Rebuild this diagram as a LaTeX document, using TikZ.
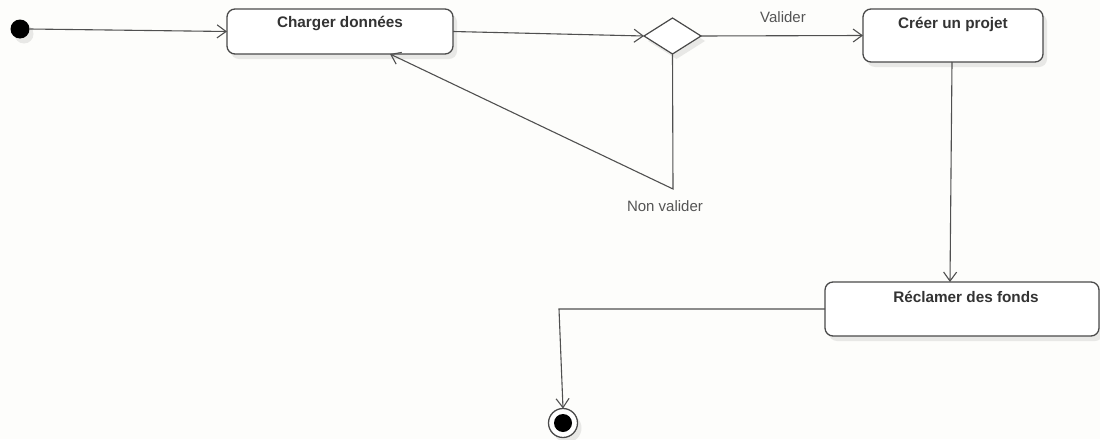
\documentclass[tikz,border=0pt]{standalone}
\usepackage{fontspec}
\setmainfont{Liberation Sans}
\usetikzlibrary{arrows.meta,shapes.geometric,shadows,calc}
\definecolor{bgc}{HTML}{FDFDFB}
\definecolor{edgec}{HTML}{4A4A4A}
\definecolor{linec}{HTML}{505050}
\definecolor{txtc}{HTML}{333333}
\definecolor{lblc}{HTML}{555555}
\definecolor{shc}{HTML}{E8E8E6}
\tikzset{
  shd/.style={drop shadow={shadow xshift=4pt,shadow yshift=-5pt,fill=shc,opacity=1}},
  actbox/.style={draw=edgec,line width=1.3pt,rounded corners=8pt,fill=white,shd,inner sep=0pt,outer sep=0pt},
  dec/.style={draw=edgec,line width=1.2pt,diamond,fill=white,shd,inner sep=0pt,outer sep=0pt,minimum width=57pt,minimum height=36pt},
  ttl/.style={font=\fontsize{15.3}{17}\selectfont\bfseries,text=txtc,anchor=base,inner sep=0pt},
  lbl/.style={font=\fontsize{15}{17}\selectfont,text=lblc,anchor=base,inner sep=0pt},
  flow/.style={draw=linec,line width=1.1pt,-{Straight Barb[length=9pt,width=13pt,line width=1.1pt]}},
  plain/.style={draw=linec,line width=1.1pt}
}
\begin{document}
\begin{tikzpicture}[x=1pt,y=-1pt]
\useasboundingbox (0,0) rectangle (1100,439);
\fill[bgc] (0,0) rectangle (1100,439);
\begin{scope}
\clip (0,0) rectangle (1100,439);
% initial / final
\node[circle,fill=black,minimum size=19pt,inner sep=0pt,outer sep=0pt,shd] (init) at (20,29) {};
\node[circle,draw=edgec,line width=1.3pt,fill=white,minimum size=29pt,inner sep=0pt,outer sep=0pt,shd] (fin) at (563,423) {};
\node[circle,fill=black,minimum size=18pt,inner sep=0pt] (finin) at (fin.center) {};
% activity boxes
\node[actbox,minimum width=226pt,minimum height=45pt] (charger) at (340,31.5) {};
\node[actbox,minimum width=180pt,minimum height=53pt] (creer) at (953,35.5) {};
\node[actbox,minimum width=274pt,minimum height=54pt] (recl) at (962,309) {};
\node[dec] (dia) at (672.5,36) {};
% titles
\node[ttl] (tcharger) at (340,27.5) {Charger données};
\node[ttl] (tcreer) at (953,28) {Créer un projet};
\node[ttl] (trecl) at (966,302) {Réclamer des fonds};
% connectors
\draw[flow] (init.east) -- (charger.west);
\draw[flow] (charger.east) -- (dia.west);
\draw[flow] (dia.east) -- (creer.west);
\node[lbl] (lvalider) at (783,23) {Valider};
\draw[flow] ([xshift=-1pt]creer.south) -- ([xshift=-12pt]recl.north);
\coordinate (nv) at (673,189);
\draw[flow] (dia.south) -- (nv) -- ([xshift=50pt]charger.south);
\node[lbl] (lnon) at (665,211) {Non valider};
\coordinate (bend) at (559,309);
\draw[flow] (recl.west) -- (bend) -- (fin.north);
\end{scope}
\end{tikzpicture}
\end{document}
